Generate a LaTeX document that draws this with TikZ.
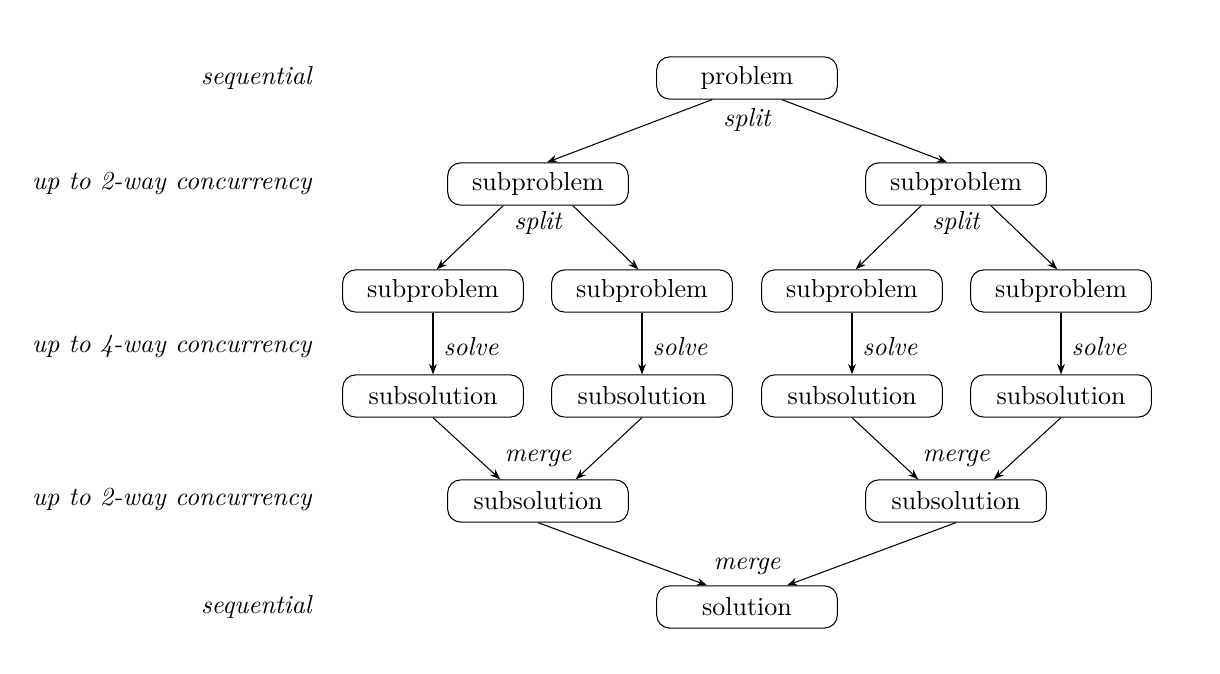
\documentclass[tikz,border=0pt]{standalone}
\usepackage{amsmath}
\usepackage{tikz}
\usetikzlibrary{arrows.meta}

\begin{document}
\begin{tikzpicture}[x=0.0135cm,y=-0.0135cm,
    box/.style={draw,rounded corners=5pt,minimum width=2.44cm,minimum height=0.57cm,inner sep=0pt},
    lbl/.style={font=\itshape},
    lvl/.style={font=\itshape,anchor=east,inner sep=0pt},
    arr/.style={-{Stealth[length=4pt,width=3pt]}}]
          \useasboundingbox (0,0) rectangle (1220,674);
          % level labels
          \node[lvl] (l1) at (312,78) {sequential};
          \node[lvl] (l2) at (312,184) {up to 2-way concurrency};
          \node[lvl] (l3) at (312,347) {up to 4-way concurrency};
          \node[lvl] (l4) at (312,500) {up to 2-way concurrency};
          \node[lvl] (l5) at (312,607) {sequential};
          % boxes
          \node[box] (p) at (747,78) {problem};
          \node[box] (pa) at (538,184) {subproblem};
          \node[box] (pb) at (956,184) {subproblem};
          \node[box] (paa) at (433,291) {subproblem};
          \node[box] (pab) at (642,291) {subproblem};
          \node[box] (pba) at (852,291) {subproblem};
          \node[box] (pbb) at (1061,291) {subproblem};
          \node[box] (saa) at (433,396) {subsolution};
          \node[box] (sab) at (642,396) {subsolution};
          \node[box] (sba) at (852,396) {subsolution};
          \node[box] (sbb) at (1061,396) {subsolution};
          \node[box] (sa) at (538,501) {subsolution};
          \node[box] (sb) at (956,501) {subsolution};
          \node[box] (s) at (747,607) {solution};
          % labels on the arrows
          \node[lbl] (t1) at (747,120) {split};
          \node[lbl] (t2) at (538,223) {split};
          \node[lbl] (t3) at (956,223) {split};
          \node[lbl] (t4) at (471,347) {solve};
          \node[lbl] (t5) at (680,347) {solve};
          \node[lbl] (t6) at (890,347) {solve};
          \node[lbl] (t7) at (1099,347) {solve};
          \node[lbl] (t8) at (538,458) {merge};
          \node[lbl] (t9) at (956,458) {merge};
          \node[lbl] (t10) at (747,566) {merge};
          % split
          \draw[arr] ([xshift=-0.47cm]p.south) -- ([xshift=0.12cm]pa.north);
          \draw[arr] ([xshift=0.47cm]p.south) -- ([xshift=-0.12cm]pb.north);
          \draw[arr] ([xshift=-0.47cm]pa.south) -- ([xshift=0.05cm]paa.north);
          \draw[arr] ([xshift=0.47cm]pa.south) -- ([xshift=-0.05cm]pab.north);
          \draw[arr] ([xshift=-0.47cm]pb.south) -- ([xshift=0.05cm]pba.north);
          \draw[arr] ([xshift=0.47cm]pb.south) -- ([xshift=-0.05cm]pbb.north);
          % solve
          \draw[arr] (paa) -- (saa);
          \draw[arr] (pab) -- (sab);
          \draw[arr] (pba) -- (sba);
          \draw[arr] (pbb) -- (sbb);
          % merge
          \draw[arr] (saa.south) -- ([xshift=-0.51cm]sa.north);
          \draw[arr] (sab.south) -- ([xshift=0.51cm]sa.north);
          \draw[arr] (sba.south) -- ([xshift=-0.51cm]sb.north);
          \draw[arr] (sbb.south) -- ([xshift=0.51cm]sb.north);
          \draw[arr] (sa.south) -- ([xshift=-0.54cm]s.north);
          \draw[arr] (sb.south) -- ([xshift=0.54cm]s.north);
        \end{tikzpicture}
\end{document}
